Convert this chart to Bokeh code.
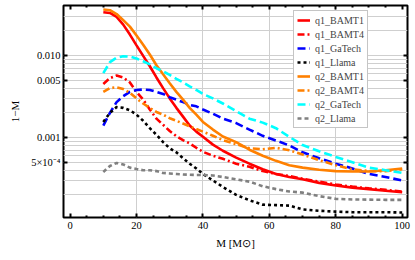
from bokeh.plotting import figure
from bokeh.models import (Range1d, FixedTicker, LinearAxis, LogAxis, Legend,
                          LegendItem, ColumnDataSource, CustomLabelingPolicy)
from bokeh.embed import file_html
from bokeh.resources import INLINE

# ---------------- data ----------------
M = [10, 12, 14, 16, 18, 20, 22, 24, 26, 28, 30, 32, 34, 36, 38, 40, 43, 46,
     50, 54, 58, 62, 66, 70, 75, 80, 85, 90, 95, 100]

q1_BAMT1 = [0.0337, 0.0330, 0.0295, 0.0238, 0.0180, 0.0133, 0.0099, 0.0074,
            0.0054, 0.0040, 0.0030, 0.0023, 0.0018, 0.0014, 0.00118, 0.00102,
            0.00082, 0.00069, 0.00057, 0.00048, 0.00041, 0.00036, 0.00033,
            0.00031, 0.00028, 0.00026, 0.000245, 0.000235, 0.000225, 0.000215]
q1_BAMT4 = [0.0045, 0.0053, 0.0057, 0.0054, 0.0047, 0.0036, 0.0029, 0.0022,
            0.0017, 0.00143, 0.0012, 0.00104, 0.00093, 0.00085, 0.00075,
            0.00067, 0.0006, 0.00055, 0.00048, 0.00044, 0.00039, 0.00036,
            0.00034, 0.000315, 0.00029, 0.000268, 0.000252, 0.00024, 0.00023,
            0.00022]
q1_GaTech = [0.0014, 0.0020, 0.0027, 0.0032, 0.0036, 0.0038, 0.00385, 0.0038,
             0.0036, 0.0034, 0.0031, 0.0029, 0.0027, 0.0025, 0.0024, 0.0022,
             0.00195, 0.0017, 0.0015, 0.00125, 0.00105, 0.00092, 0.0008,
             0.00066, 0.00056, 0.00048, 0.00042, 0.00036, 0.00033, 0.0003]
q1_Llama = [0.00155, 0.0020, 0.00235, 0.0023, 0.00215, 0.0019, 0.0016, 0.0013,
            0.00108, 0.00088, 0.00074, 0.00066, 0.00056, 0.00048, 0.00042,
            0.00036, 0.0003, 0.00025, 0.0002, 0.000172, 0.000152, 0.00015,
            0.000148, 0.000133, 0.000128, 0.000125, 0.000123, 0.000123,
            0.000123, 0.000122]
q2_BAMT1 = [0.0364, 0.0357, 0.0320, 0.0270, 0.0225, 0.0175, 0.0135, 0.0103,
            0.0076, 0.0059, 0.0046, 0.0036, 0.0029, 0.0023, 0.0019, 0.00155,
            0.00125, 0.00103, 0.00088, 0.00071, 0.0006, 0.00052, 0.00046,
            0.00043, 0.000405, 0.00039, 0.000385, 0.000385, 0.0004, 0.00042]
q2_BAMT4 = [0.0036, 0.0040, 0.0041, 0.0039, 0.0035, 0.0030, 0.0026, 0.0023,
            0.00205, 0.0019, 0.00172, 0.0016, 0.00148, 0.00137, 0.00127,
            0.00118, 0.00105, 0.00093, 0.00083, 0.00074, 0.00072, 0.00075,
            0.0007, 0.00062, 0.00053, 0.00046, 0.00041, 0.00039, 0.00039,
            0.00041]
q2_GaTech = [0.0061, 0.0083, 0.0094, 0.0098, 0.0097, 0.0092, 0.0085, 0.0078,
             0.0070, 0.0064, 0.0058, 0.0052, 0.0047, 0.0042, 0.0038, 0.0034,
             0.0030, 0.0026, 0.0021, 0.0017, 0.00152, 0.0013, 0.00102,
             0.00081, 0.00068, 0.00058, 0.0005, 0.00043, 0.0004, 0.00037]
q2_Llama = [0.00038, 0.00045, 0.00049, 0.00047, 0.00043, 0.000413, 0.0004,
            0.0004, 0.00039, 0.00037, 0.000365, 0.00036, 0.000355, 0.000352,
            0.00035, 0.00035, 0.000345, 0.00033, 0.00031, 0.00029, 0.000255,
            0.000235, 0.00022, 0.000213, 0.000193, 0.000179, 0.000176,
            0.000175, 0.000174, 0.000174]

series_names = ["q1_BAMT1", "q1_BAMT4", "q1_GaTech", "q1_Llama",
                "q2_BAMT1", "q2_BAMT4", "q2_GaTech", "q2_Llama"]
series_values = [q1_BAMT1, q1_BAMT4, q1_GaTech, q1_Llama,
                 q2_BAMT1, q2_BAMT4, q2_GaTech, q2_Llama]
series_colors = ["#FF0000", "#FF0000", "#0000FF", "#000000",
                 "#FF8000", "#FF8000", "#00FFFF", "#808080"]
series_dashes = ["solid", "7 3 2 3", "8 4", "3 3",
                 "solid", "7 3 2 3", "8 4", "4 3"]

x_ticks = [0, 20, 40, 60, 80, 100]
x_tick_labels = ["0", "20", "40", "60", "80", "100"]
x_minor = [5, 10, 15, 25, 30, 35, 45, 50, 55, 65, 70, 75, 85, 90, 95]
x_grid = [20, 40, 60, 80]
y_ticks = [0.0005, 0.001, 0.005, 0.01]
y_tick_labels = ["5×10⁻⁴", "0.001", "0.005", "0.010"]
y_grid = [0.0002, 0.0003, 0.0004, 0.0005, 0.0006, 0.0007, 0.0008, 0.0009,
          0.001, 0.002, 0.003, 0.004, 0.005, 0.006, 0.007, 0.008, 0.009,
          0.01, 0.02, 0.03]
x_title = "M [M⊙]"
y_title = "1−M"

FONT = "Liberation Serif"

# ---------------- figure ----------------
p = figure(width=412, height=258, x_range=Range1d(-1.99, 101.6),
           y_range=Range1d(1.06e-4, 0.0407), y_axis_type="log",
           output_backend="svg", toolbar_location=None,
           min_border_left=63, min_border_right=5, min_border_top=5,
           min_border_bottom=41)
p.background_fill_color = "white"
p.border_fill_color = "white"
p.outline_line_color = "black"
p.outline_line_width = 2

# grids
p.xgrid.ticker = FixedTicker(ticks=x_grid)
p.ygrid.ticker = FixedTicker(ticks=y_grid)
for g in (p.xgrid, p.ygrid):
    g.grid_line_color = "#cfcfcf"
    g.grid_line_width = 1

# bottom axis
xa = p.xaxis[0]
xa.ticker = FixedTicker(ticks=x_ticks, minor_ticks=x_minor)
xa.major_label_overrides = {t: l for t, l in zip(x_ticks, x_tick_labels)}
xa.axis_label = x_title
# left axis
ya = p.yaxis[0]
ya.ticker = FixedTicker(ticks=y_ticks, minor_ticks=[])
ya.major_label_overrides = {t: l for t, l in zip(y_ticks, y_tick_labels)}
ya.axis_label = y_title

# frame ticks on top and right (no labels)
top = LinearAxis(ticker=FixedTicker(ticks=x_ticks, minor_ticks=x_minor),
                 major_label_policy=CustomLabelingPolicy(
                     code="for (const i of indices) { if (false) { yield i } }"))
right = LogAxis(ticker=FixedTicker(ticks=y_ticks, minor_ticks=[]),
                major_label_policy=CustomLabelingPolicy(
                    code="for (const i of indices) { if (false) { yield i } }"))
p.add_layout(top, "above")
p.add_layout(right, "right")

for ax in (xa, ya, top, right):
    ax.axis_line_color = None
    ax.major_tick_in = 4
    ax.major_tick_out = 0
    ax.minor_tick_in = 2
    ax.minor_tick_out = 0
    ax.major_tick_line_width = 2
    ax.minor_tick_line_width = 2
    ax.major_tick_line_color = "black"
    ax.minor_tick_line_color = "black"
    ax.major_label_text_font = FONT
    ax.major_label_text_font_size = "10.5px"
    ax.major_label_text_color = "black"
    ax.axis_label_text_font = FONT
    ax.axis_label_text_font_size = "11px"
    ax.axis_label_text_font_style = "normal"
    ax.axis_label_text_color = "black"
for ax in (top, right):
    ax.major_label_standoff = 0
    ax.major_label_text_font_size = "0px"
xa.major_label_standoff = 4
xa.axis_label_standoff = 5
ya.major_label_standoff = 3
ya.axis_label_standoff = 7

# curves
items = []
for name, vals, col, dash in zip(series_names, series_values, series_colors,
                                 series_dashes):
    src = ColumnDataSource(dict(x=M, y=vals))
    r = p.line("x", "y", source=src, line_color=col, line_width=2.6,
               line_dash=dash)
    items.append(LegendItem(label=name, renderers=[r]))

legend = Legend(items=items, location=(230, 89), margin=0, padding=3,
                spacing=2, label_height=12, glyph_height=12, glyph_width=13,
                label_standoff=5, label_text_font=FONT,
                label_text_font_size="10px", border_line_color="#8c8c8c",
                border_line_width=1, background_fill_color="white",
                background_fill_alpha=1.0)
p.add_layout(legend)

open("out.html", "w").write(file_html(p, INLINE))
